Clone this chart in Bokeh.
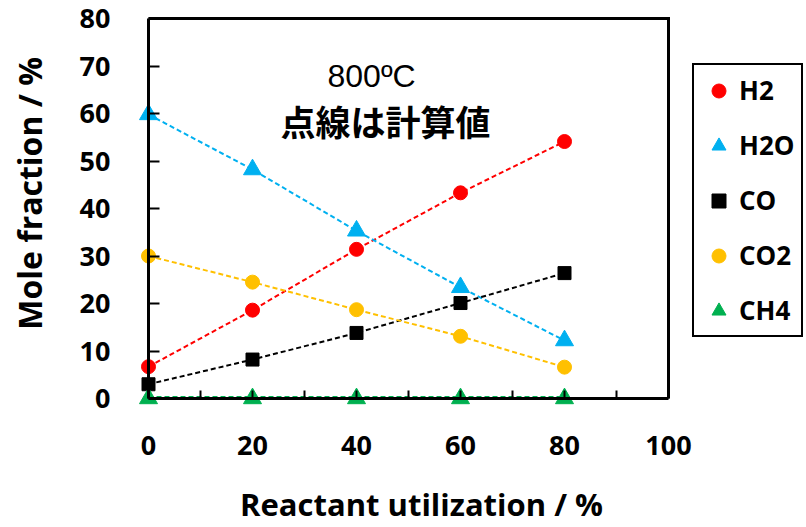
from bokeh.plotting import figure
from bokeh.models import (Range1d, FixedTicker, Legend, LegendItem, Label)
from bokeh.embed import file_html
from bokeh.resources import INLINE
import math

# Data
utilization = [0, 20, 40, 60, 80]
h2 = [6.7, 18.6, 31.4, 43.3, 54.1]
h2o = [59.8, 48.2, 35.3, 23.4, 12.2]
co = [3.0, 8.2, 13.8, 20.1, 26.4]
co2 = [30.0, 24.5, 18.7, 13.1, 6.6]
ch4 = [0.0, 0.0, 0.0, 0.0, 0.0]

# calculated values (dashed lines)
h2_calc = [6.7, 18.6, 31.4, 43.3, 54.1]
h2o_calc = [59.8, 48.2, 35.3, 23.4, 12.2]
co_calc = [3.0, 8.2, 13.8, 20.1, 26.4]
co2_calc = [30.0, 24.5, 18.7, 13.1, 6.6]
ch4_calc = [0.3, 0.3, 0.3, 0.3, 0.3]

series_names = ["H2", "H2O", "CO", "CO2", "CH4"]
x_ticks = [0, 20, 40, 60, 80, 100]
x_minor = [10, 30, 50, 70, 90]
y_ticks = [0, 10, 20, 30, 40, 50, 60, 70, 80]
x_lim = (0, 100)
y_lim = (0, 80)

FONT = "Open Sans"
W, H = 806, 527
# plot area in pixels: x 148..668, y 18..398
PX0, PX1, PY0, PY1 = 148, 668, 18, 398
sx = (PX1 - PX0) / (x_lim[1] - x_lim[0])
sy = (PY1 - PY0) / (y_lim[1] - y_lim[0])

p = figure(width=W, height=H, output_backend="svg", toolbar_location=None,
           x_range=Range1d(x_lim[0] - PX0 / sx, x_lim[1] + (W - PX1) / sx),
           y_range=Range1d(y_lim[0] - (H - PY1) / sy, y_lim[1] + PY0 / sy),
           min_border_left=0, min_border_right=0,
           min_border_top=0, min_border_bottom=0)
p.grid.visible = False
p.background_fill_color = "white"
p.border_fill_color = "white"
p.outline_line_color = None

# plot-area frame (top and right edges)
p.line([x_lim[0], x_lim[1], x_lim[1]], [y_lim[1], y_lim[1], y_lim[0]],
       line_color="black", line_width=3, line_join="miter")

# axes
for ax in (p.xaxis[0], p.yaxis[0]):
    ax.fixed_location = 0
    ax.axis_line_width = 3
    ax.axis_line_color = "black"
    ax.major_tick_line_width = 2
    ax.minor_tick_line_width = 2
    ax.major_tick_out = 0
    ax.minor_tick_out = 0
    ax.major_label_text_font = FONT
    ax.major_label_text_font_style = "bold"
    ax.major_label_text_font_size = "27px"
    ax.major_label_text_color = "black"

p.xaxis.bounds = x_lim
p.xaxis.ticker = FixedTicker(ticks=x_ticks, minor_ticks=x_minor)
p.xaxis.major_tick_in = 8
p.xaxis.minor_tick_in = 8
p.xaxis.major_label_standoff = 37

p.yaxis.bounds = y_lim
p.yaxis.ticker = FixedTicker(ticks=y_ticks, minor_ticks=[])
p.yaxis.major_tick_in = 11
p.yaxis.major_label_standoff = 38

# axis titles
p.add_layout(Label(x=52.5, y=-22.3, text="Reactant utilization / %", text_align="center",
                   text_baseline="middle", text_font=FONT, text_font_style="bold",
                   text_font_size="31px", text_color="black"))
p.add_layout(Label(x=-22.9, y=43.2, text="Mole fraction / %", text_align="center",
                   text_baseline="middle", angle=math.pi / 2, text_font=FONT,
                   text_font_style="bold", text_font_size="32px", text_color="black"))

colors = ["#FF0000", "#00B0F0", "#000000", "#FFC000", "#00B050"]
measured = [h2, h2o, co, co2, ch4]
calc = [h2_calc, h2o_calc, co_calc, co2_calc, ch4_calc]
markers = ["circle", "triangle", "square", "circle", "triangle"]
sizes = [14, 18, 13, 14, 18]

items = []
for name, col, ys, yc, mk, sz in zip(series_names, colors, measured, calc, markers, sizes):
    p.line(utilization, yc, line_color=col, line_width=2, line_dash="5 3")
    r = p.scatter(utilization, ys, marker=mk, size=sz, fill_color=col, line_color=col)
    items.append(LegendItem(label=name, renderers=[r]))

legend = Legend(items=items, location=(692, 527 - 337))
legend.label_text_font = FONT
legend.label_text_font_style = "bold"
legend.label_text_font_size = "26px"
legend.label_text_color = "black"
legend.glyph_width = 35
legend.glyph_height = 35
legend.label_height = 35
legend.label_standoff = 3
legend.spacing = 19
legend.padding = 7
legend.margin = 0
legend.border_line_color = "black"
legend.border_line_alpha = 1
legend.border_line_width = 2.5
legend.background_fill_alpha = 1
p.add_layout(legend, "center")

p.add_layout(Label(x=42.9, y=68, text="800ºC", text_align="center", text_baseline="middle",
                   text_font="Liberation Sans", text_font_size="32px", text_color="black"))
p.add_layout(Label(x=45.6, y=58.6, text="点線は計算値", text_align="center", text_baseline="middle",
                   text_font="Noto Sans CJK JP", text_font_style="bold",
                   text_font_size="35px", text_color="black"))

open("out.html", "w").write(file_html(p, INLINE))
